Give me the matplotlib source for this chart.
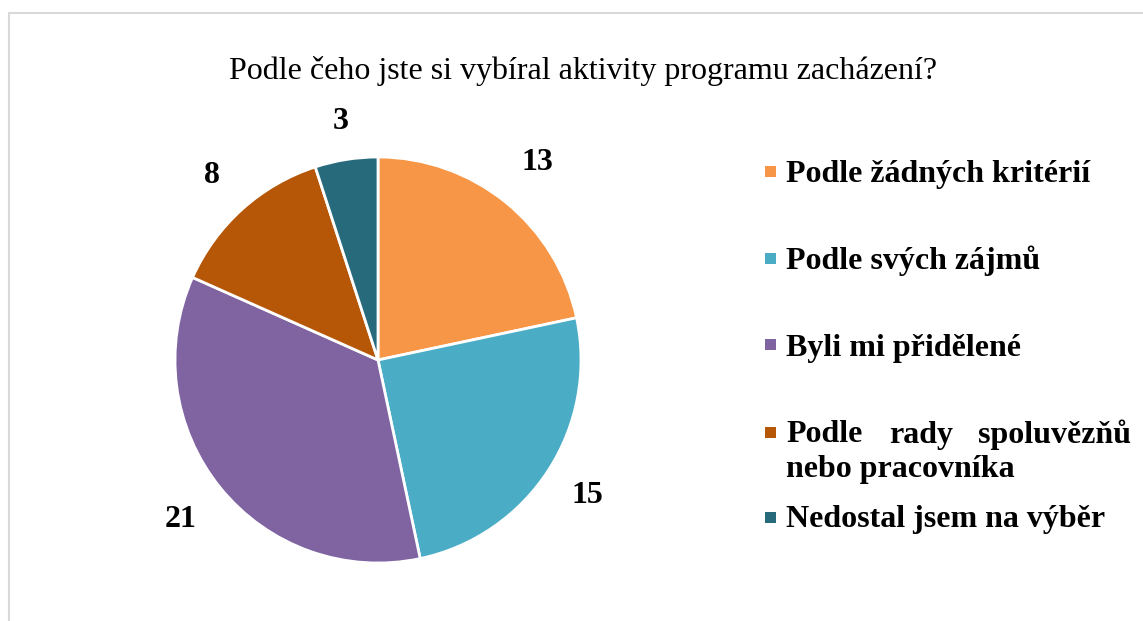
import matplotlib
matplotlib.use("Agg")
from matplotlib import pyplot as plt
from matplotlib.patches import Rectangle

title = "Podle čeho jste si vybíral aktivity programu zacházení?"
categories = ["Podle žádných kritérií", "Podle svých zájmů", "Byli mi přidělené",
              "Podle rady spoluvězňů nebo pracovníka", "Nedostal jsem na výběr"]
values = [13, 15, 21, 8, 3]
colors = ["#F79646", "#4BACC6", "#8064A2", "#B65708", "#276A7C"]
label_dist = [1.25, 1.23, 1.25, 1.22, 1.19]

plt.rcParams['font.family'] = ['Liberation Serif', 'DejaVu Serif']

W, H = 1143, 621
fig = plt.figure(figsize=(W / 100, H / 100), dpi=100)

# chart border (light gray, runs off the right/bottom edge)
fig.patches.append(Rectangle((9 / W, -0.1), 1.2, (H - 13) / H + 0.1,
                             transform=fig.transFigure, fill=False,
                             edgecolor="#D9D9D9", lw=1.5))

fig.text(583 / W, 1 - 71 / H, title, ha="center", va="center", fontsize=23)

# pie axes: centre (378, 360), radius 203 px
cx, cy, r = 378, 360, 203
ax = fig.add_axes([(cx - r) / W, 1 - (cy + r) / H, 2 * r / W, 2 * r / H])
wedges, texts, autotexts = ax.pie(
    values, colors=colors, startangle=90, counterclock=False,
    autopct=lambda p: "%d" % round(p * sum(values) / 100), pctdistance=1.0,
    wedgeprops=dict(edgecolor="white", linewidth=2),
    textprops=dict(fontsize=23, fontweight="bold", color="black"))
for t, k in zip(autotexts, label_dist):
    x, y = t.get_position()
    t.set_position((x * k, y * k))
ax.set_xlim(-1, 1)
ax.set_ylim(-1, 1)
ax.set_aspect("equal")

# legend drawn by hand (Excel style, one entry wraps and is justified)
sq = 11
legend_y = [172, 258, 345, 432, 517]
for i, (lab, c) in enumerate(zip(categories, colors)):
    y = legend_y[i]
    fig.patches.append(Rectangle((765 / W, 1 - (y + sq / 2) / H), sq / W, sq / H,
                                 transform=fig.transFigure, facecolor=c, edgecolor="none"))
    ty = y + 3
    kw = dict(va="center", fontsize=23, fontweight="bold")
    if i == 3:
        words = lab.split()
        fig.text(786 / W, 1 - ty / H, words[0], ha="left", **kw)
        fig.text(889 / W, 1 - ty / H, words[1], ha="left", **kw)
        fig.text(1131 / W, 1 - ty / H, words[2], ha="right", **kw)
        fig.text(786 / W, 1 - (ty + 35) / H, " ".join(words[3:]), ha="left", **kw)
    else:
        fig.text(786 / W, 1 - ty / H, lab, ha="left", **kw)

fig.savefig("out.png", dpi=100)
